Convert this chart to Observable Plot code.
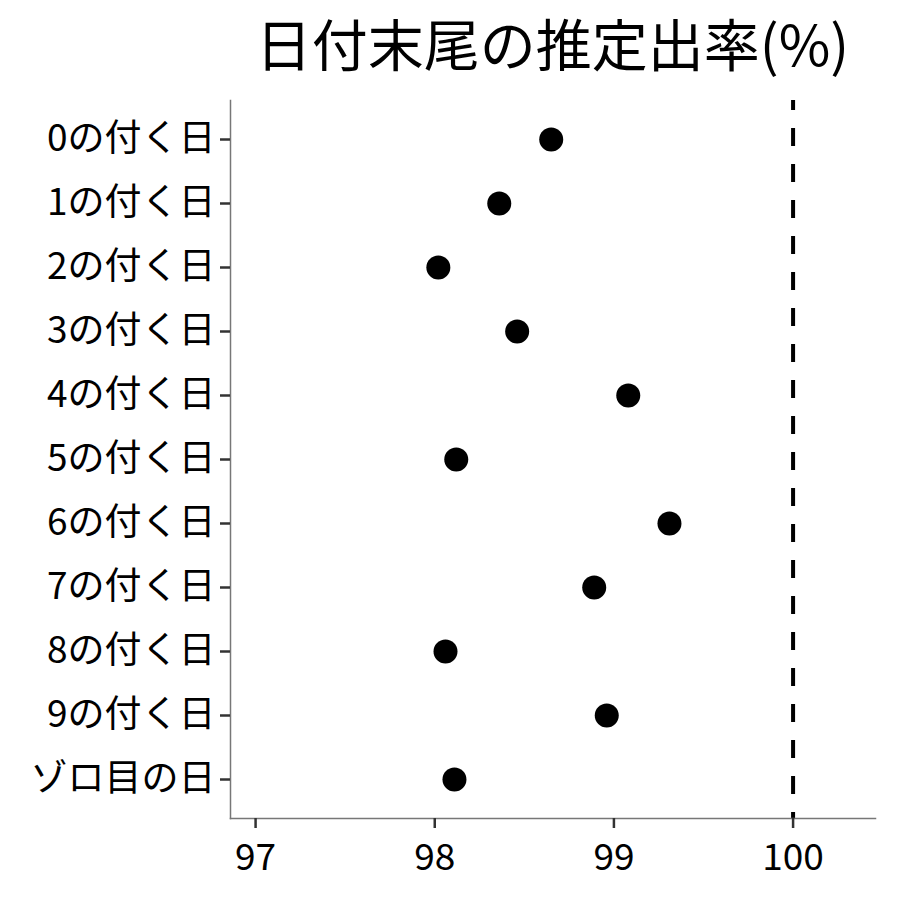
<!DOCTYPE html>
<html>
<head>
<meta charset="utf-8">
<script src="https://cdn.jsdelivr.net/npm/d3@7"></script>
<script src="https://cdn.jsdelivr.net/npm/@observablehq/plot@0.6"></script>
<style>
  html, body { margin: 0; padding: 0; background: #fff; }
  #wrap { position: relative; width: 900px; height: 900px; font-family: "Noto Sans CJK JP", "Noto Sans", sans-serif; }
  #title { position: absolute; left: 230px; width: 645px; top: 14px; text-align: center; font-size: 56px; line-height: 56px; color: #000; white-space: nowrap; }
  #chart { position: absolute; left: 0; top: 90px; }
</style>
</head>
<body>
<div id="wrap">
  <div id="title">日付末尾の推定出率(%)</div>
  <div id="chart"></div>
</div>
<script>
const categories = ["0の付く日","1の付く日","2の付く日","3の付く日","4の付く日","5の付く日","6の付く日","7の付く日","8の付く日","9の付く日","ゾロ目の日"];
const rates = [98.65, 98.36, 98.02, 98.46, 99.08, 98.12, 99.31, 98.89, 98.06, 98.96, 98.11];
const xTicks = [97, 98, 99, 100];
const refLine = [100];
const xDomain = [96.86, 100.46];

const data = categories.map((c, i) => ({ day: c, rate: rates[i] }));

const plot = Plot.plot({
  width: 900,
  height: 810,
  marginTop: 10,
  marginBottom: 82,
  marginLeft: 230,
  marginRight: 25,
  style: { fontFamily: '"Noto Sans CJK JP", "Noto Sans", sans-serif', background: "#fff", overflow: "visible" },
  x: { domain: xDomain, ticks: xTicks, label: null },
  y: { type: "point", domain: categories, padding: 0.6, label: null },
  marks: [
    Plot.ruleX(refLine, { stroke: "#000", strokeWidth: 4, strokeDasharray: "18,18", strokeDashoffset: 8 }),
    Plot.frame({ anchor: "left", stroke: "#777", strokeWidth: 1.5 }),
    Plot.frame({ anchor: "bottom", stroke: "#777", strokeWidth: 1.5 }),
    Plot.axisX({ ticks: xTicks, tickSize: 10, tickPadding: 15, fontSize: 37, stroke: "#333", strokeWidth: 2.5, label: null, tickFormat: d => String(d) }),
    Plot.axisY({ tickSize: 10, tickPadding: 5, fontSize: 37, stroke: "#333", strokeWidth: 2.5, label: null }),
    Plot.dot(data, { x: "rate", y: "day", r: 12, fill: "#000", stroke: null })
  ]
});
plot.querySelectorAll("text").forEach(t => t.setAttribute("fill", "#000"));
document.getElementById("chart").appendChild(plot);
</script>
</body>
</html>
